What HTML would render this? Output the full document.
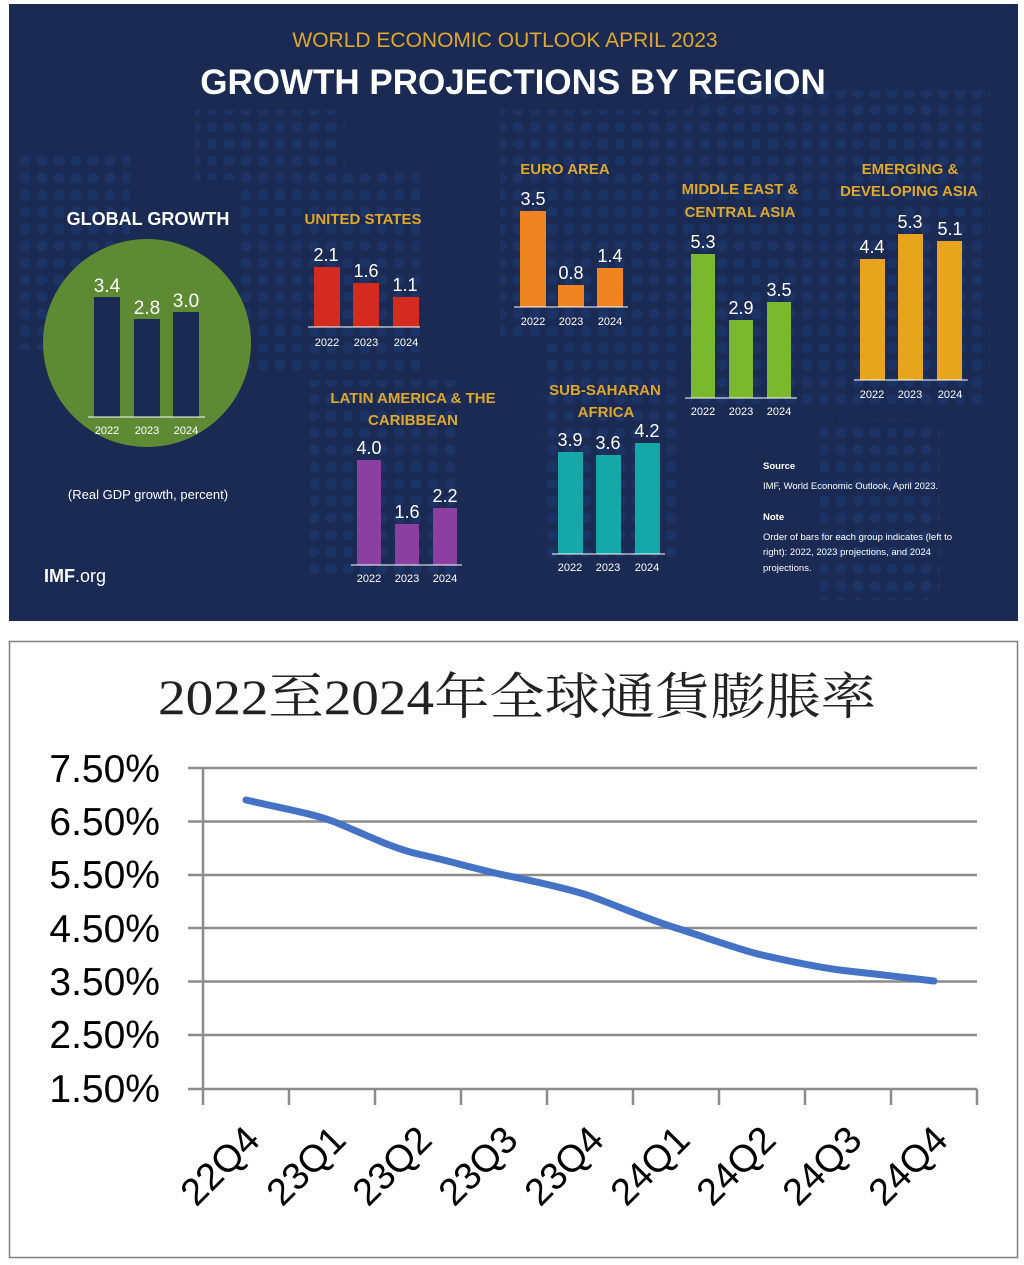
<!DOCTYPE html>
<html><head><meta charset="utf-8"><style>
html,body{margin:0;padding:0;background:#fff;width:1024px;height:1265px;overflow:hidden}
svg{display:block}
.s{font-family:"Liberation Sans",sans-serif}
</style></head><body>
<svg width="1024" height="1265" viewBox="0 0 1024 1265" xmlns="http://www.w3.org/2000/svg">
<defs>
<pattern id="dots" x="0" y="0" width="17" height="17" patternUnits="userSpaceOnUse">
<circle cx="8" cy="8" r="5.5" fill="#1f3f7e"/>
</pattern>
</defs>
<rect x="9" y="4" width="1009" height="617" fill="#1a2a52"/>
<g opacity="0.45">
<rect x="195" y="110" width="150" height="70" fill="url(#dots)"/>
<rect x="20" y="150" width="110" height="200" fill="url(#dots)"/>
<rect x="240" y="170" width="180" height="200" fill="url(#dots)"/>
<rect x="310" y="380" width="150" height="200" fill="url(#dots)"/>
<rect x="500" y="110" width="230" height="230" fill="url(#dots)"/>
<rect x="540" y="330" width="140" height="230" fill="url(#dots)"/>
<rect x="690" y="90" width="300" height="320" fill="url(#dots)"/>
<rect x="820" y="420" width="120" height="180" fill="url(#dots)"/>
</g>
<g class="s" text-anchor="middle">
<text x="505" y="47" fill="#e0a82a" font-size="21">WORLD ECONOMIC OUTLOOK APRIL 2023</text>
<text x="513" y="94" fill="#fff" font-size="35" font-weight="bold">GROWTH PROJECTIONS BY REGION</text>
<text x="148" y="225" fill="#fff" font-size="18" font-weight="bold">GLOBAL GROWTH</text>
<circle cx="147" cy="343" r="104" fill="#5e8a34"/>
<g fill="#1a2a52"><rect x="94" y="297" width="26" height="120"/><rect x="134" y="319" width="26" height="98"/><rect x="173" y="312" width="26" height="105"/></g>
<line x1="88" y1="417" x2="205" y2="417" stroke="#fff" stroke-width="1"/>
<g fill="#fff" font-size="19"><text x="107" y="292">3.4</text><text x="147" y="314">2.8</text><text x="186" y="307">3.0</text></g>
<g fill="#fff" font-size="11"><text x="107" y="434">2022</text><text x="147" y="434">2023</text><text x="186" y="434">2024</text></g>
<text x="148" y="499" fill="#fff" font-size="13">(Real GDP growth, percent)</text>
<text x="75" y="582" fill="#fff" font-size="18" font-weight="bold">IMF<tspan font-weight="normal">.org</tspan></text>

<text x="363" y="224" fill="#e0a82a" font-size="15" font-weight="bold">UNITED STATES</text>
<g fill="#d42a22"><rect x="314" y="267" width="26" height="60"/><rect x="353" y="283" width="26" height="44"/><rect x="393" y="297" width="26" height="30"/></g>
<line x1="308" y1="327" x2="420" y2="327" stroke="#fff"/>
<g fill="#fff" font-size="18"><text x="326" y="261">2.1</text><text x="366" y="277">1.6</text><text x="405" y="291">1.1</text></g>
<g fill="#fff" font-size="11"><text x="327" y="346">2022</text><text x="366" y="346">2023</text><text x="406" y="346">2024</text></g>

<text x="565" y="174" fill="#e0a82a" font-size="15" font-weight="bold">EURO AREA</text>
<g fill="#ef8520"><rect x="520" y="211" width="26" height="96"/><rect x="558" y="285" width="26" height="22"/><rect x="597" y="268" width="26" height="39"/></g>
<line x1="514" y1="307" x2="628" y2="307" stroke="#fff"/>
<g fill="#fff" font-size="18"><text x="533" y="205">3.5</text><text x="571" y="279">0.8</text><text x="610" y="262">1.4</text></g>
<g fill="#fff" font-size="11"><text x="533" y="325">2022</text><text x="571" y="325">2023</text><text x="610" y="325">2024</text></g>

<text x="740" y="194" fill="#e0a82a" font-size="15" font-weight="bold">MIDDLE EAST &amp;</text>
<text x="740" y="217" fill="#e0a82a" font-size="15" font-weight="bold">CENTRAL ASIA</text>
<g fill="#7ab92e"><rect x="691" y="254" width="24" height="144"/><rect x="729" y="320" width="24" height="78"/><rect x="767" y="302" width="24" height="96"/></g>
<line x1="685" y1="398" x2="797" y2="398" stroke="#fff"/>
<g fill="#fff" font-size="18"><text x="703" y="248">5.3</text><text x="741" y="314">2.9</text><text x="779" y="296">3.5</text></g>
<g fill="#fff" font-size="11"><text x="703" y="415">2022</text><text x="741" y="415">2023</text><text x="779" y="415">2024</text></g>

<text x="910" y="174" fill="#e0a82a" font-size="15" font-weight="bold">EMERGING &amp;</text>
<text x="909" y="196" fill="#e0a82a" font-size="15" font-weight="bold">DEVELOPING ASIA</text>
<g fill="#e7a51e"><rect x="860" y="259" width="25" height="121"/><rect x="898" y="234" width="25" height="146"/><rect x="937" y="241" width="25" height="139"/></g>
<line x1="854" y1="380" x2="968" y2="380" stroke="#fff"/>
<g fill="#fff" font-size="18"><text x="872" y="253">4.4</text><text x="910" y="228">5.3</text><text x="950" y="235">5.1</text></g>
<g fill="#fff" font-size="11"><text x="872" y="398">2022</text><text x="910" y="398">2023</text><text x="950" y="398">2024</text></g>

<text x="413" y="403" fill="#e0a82a" font-size="15" font-weight="bold">LATIN AMERICA &amp; THE</text>
<text x="413" y="425" fill="#e0a82a" font-size="15" font-weight="bold">CARIBBEAN</text>
<g fill="#8b3fa0"><rect x="357" y="460" width="24" height="105"/><rect x="395" y="524" width="24" height="41"/><rect x="433" y="508" width="24" height="57"/></g>
<line x1="351" y1="565" x2="462" y2="565" stroke="#fff"/>
<g fill="#fff" font-size="18"><text x="369" y="454">4.0</text><text x="407" y="518">1.6</text><text x="445" y="502">2.2</text></g>
<g fill="#fff" font-size="11"><text x="369" y="582">2022</text><text x="407" y="582">2023</text><text x="445" y="582">2024</text></g>

<text x="605" y="395" fill="#e0a82a" font-size="15" font-weight="bold">SUB-SAHARAN</text>
<text x="606" y="417" fill="#e0a82a" font-size="15" font-weight="bold">AFRICA</text>
<g fill="#15a8a8"><rect x="558" y="452" width="25" height="102"/><rect x="596" y="455" width="25" height="99"/><rect x="635" y="443" width="25" height="111"/></g>
<line x1="552" y1="554" x2="665" y2="554" stroke="#fff"/>
<g fill="#fff" font-size="18"><text x="570" y="446">3.9</text><text x="608" y="449">3.6</text><text x="647" y="437">4.2</text></g>
<g fill="#fff" font-size="11"><text x="570" y="571">2022</text><text x="608" y="571">2023</text><text x="647" y="571">2024</text></g>
</g>
<g class="s" fill="#fff" font-size="9.5">
<text x="763" y="469" font-weight="bold">Source</text>
<text x="763" y="489">IMF, World Economic Outlook, April 2023.</text>
<text x="763" y="520" font-weight="bold">Note</text>
<text x="763" y="540">Order of bars for each group indicates (left to</text>
<text x="763" y="555">right): 2022, 2023 projections, and 2024</text>
<text x="763" y="571">projections.</text>
</g>

<rect x="9.5" y="641.5" width="1008" height="616" fill="#fff" stroke="#7f7f7f" stroke-width="1.5"/>
<text x="158" y="714" textLength="718" lengthAdjust="spacingAndGlyphs" font-family="'Liberation Serif','Noto Serif CJK SC',serif" font-size="50" fill="#222">2022至2024年全球通貨膨脹率</text>
<g stroke="#8c8c8c" stroke-width="2.5" fill="none">
<line x1="188" y1="768" x2="977" y2="768"/>
<line x1="188" y1="821.5" x2="977" y2="821.5"/>
<line x1="188" y1="875" x2="977" y2="875"/>
<line x1="188" y1="928" x2="977" y2="928"/>
<line x1="188" y1="981.5" x2="977" y2="981.5"/>
<line x1="188" y1="1035" x2="977" y2="1035"/>
<line x1="188" y1="1089" x2="977" y2="1089"/>
<line x1="203" y1="768" x2="203" y2="1105"/>
<path d="M289 1089V1105M375 1089V1105M461 1089V1105M547 1089V1105M633 1089V1105M719 1089V1105M805 1089V1105M891 1089V1105M977 1089V1105"/>
</g>
<g class="s" font-size="39" fill="#000" text-anchor="end">
<text x="160" y="782">7.50%</text><text x="160" y="835">6.50%</text><text x="160" y="888">5.50%</text><text x="160" y="942">4.50%</text><text x="160" y="995">3.50%</text><text x="160" y="1048">2.50%</text><text x="160" y="1102">1.50%</text>
</g>
<path d="M246 800 C 290 810, 310 813, 332 821 S 390 848, 418 854 S 480 870, 504 875 S 570 889, 590 896 S 650 920, 676 928 S 740 950, 762 955 S 820 968, 848 971 S 910 978, 934 981" fill="none" stroke="#4472c4" stroke-width="7" stroke-linecap="round"/>
<g class="s" font-size="38" fill="#000" text-anchor="end">
<text transform="translate(262,1142) rotate(-45)">22Q4</text>
<text transform="translate(348,1142) rotate(-45)">23Q1</text>
<text transform="translate(434,1142) rotate(-45)">23Q2</text>
<text transform="translate(520,1142) rotate(-45)">23Q3</text>
<text transform="translate(606,1142) rotate(-45)">23Q4</text>
<text transform="translate(692,1142) rotate(-45)">24Q1</text>
<text transform="translate(778,1142) rotate(-45)">24Q2</text>
<text transform="translate(864,1142) rotate(-45)">24Q3</text>
<text transform="translate(950,1142) rotate(-45)">24Q4</text>
</g>
</svg>
</body></html>
